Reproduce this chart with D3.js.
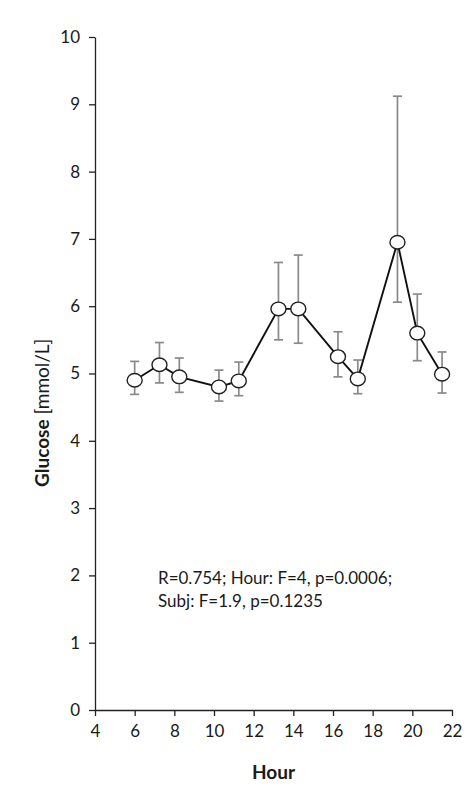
<!DOCTYPE html>
<html>
<head>
<meta charset="utf-8">
<script src="https://cdn.jsdelivr.net/npm/d3@7"></script>
<style>
  body { margin: 0; background: #fff; }
  text { font-family: Lato, "Open Sans", sans-serif; fill: #1a1a1a; }
</style>
</head>
<body>
<div id="chart"></div>
<script>
// hour of measurement, mean glucose and error bar ends (mmol/L)
var hours = [6, 7.25, 8.25, 10.25, 11.25, 13.25, 14.25, 16.25, 17.25, 19.25, 20.25, 21.5];
var glucose = [4.90, 5.13, 4.95, 4.80, 4.89, 5.96, 5.96, 5.25, 4.92, 6.95, 5.60, 4.99];
var errUpper = [5.18, 5.46, 5.23, 5.05, 5.17, 6.65, 6.76, 5.62, 5.20, 9.12, 6.18, 5.32];
var errLower = [4.69, 4.86, 4.72, 4.59, 4.67, 5.50, 5.45, 4.95, 4.70, 6.06, 5.19, 4.71];
var xTicks = [4, 6, 8, 10, 12, 14, 16, 18, 20, 22];
var yTicks = [0, 1, 2, 3, 4, 5, 6, 7, 8, 9, 10];
var statsLines = ["R=0.754; Hour: F=4, p=0.0006;", "Subj: F=1.9, p=0.1235"];

(function() {
    var width = 474, height = 803;
    var left = 95, right = 452, top = 37, bottom = 710;

    var svg = d3.select("#chart").append("svg")
        .attr("width", width)
        .attr("height", height);

    var x = d3.scaleLinear().domain([4, 22]).range([left, right]);
    var y = d3.scaleLinear().domain([0, 10]).range([bottom, top]);

    var data = hours.map((h, i) => ({h: h, v: glucose[i], hi: errUpper[i], lo: errLower[i]}));

    // axes
    var xAxis = svg.append("g")
        .attr("transform", `translate(0, ${bottom})`)
        .call(d3.axisBottom(x).tickValues(xTicks).tickSize(6).tickPadding(9).tickSizeOuter(0));
    var yAxis = svg.append("g")
        .attr("transform", `translate(${left}, 0)`)
        .call(d3.axisLeft(y).tickValues(yTicks).tickSize(6).tickPadding(9).tickSizeOuter(0));

    [xAxis, yAxis].forEach(function(g) {
        g.select(".domain").attr("stroke", "#222").attr("stroke-width", 1.3);
        g.selectAll(".tick line").attr("stroke", "#222").attr("stroke-width", 1.3);
        g.selectAll(".tick text").style("font-size", "17px").attr("fill", "#1a1a1a");
    });

    // error bars
    var eb = svg.append("g").attr("stroke", "#8a8a8a").attr("stroke-width", 1.7);
    eb.selectAll(".v").data(data).enter().append("line")
        .attr("x1", d => x(d.h)).attr("x2", d => x(d.h))
        .attr("y1", d => y(d.hi)).attr("y2", d => y(d.lo));
    eb.selectAll(".t").data(data).enter().append("line")
        .attr("x1", d => x(d.h) - 4.5).attr("x2", d => x(d.h) + 4.5)
        .attr("y1", d => y(d.hi)).attr("y2", d => y(d.hi));
    eb.selectAll(".b").data(data).enter().append("line")
        .attr("x1", d => x(d.h) - 4.5).attr("x2", d => x(d.h) + 4.5)
        .attr("y1", d => y(d.lo)).attr("y2", d => y(d.lo));

    // line
    svg.append("path")
        .datum(data)
        .attr("fill", "none")
        .attr("stroke", "#111")
        .attr("stroke-width", 1.9)
        .attr("d", d3.line().x(d => x(d.h)).y(d => y(d.v)));

    // markers
    svg.selectAll(".pt").data(data).enter().append("ellipse")
        .attr("cx", d => x(d.h))
        .attr("cy", d => y(d.v))
        .attr("rx", 7.5)
        .attr("ry", 6.8)
        .attr("fill", "#fff")
        .attr("stroke", "#222")
        .attr("stroke-width", 1.4);

    // stats annotation
    svg.append("g").selectAll("text").data(statsLines).enter().append("text")
        .attr("x", 158)
        .attr("y", (d, i) => 584 + i * 23)
        .style("font-size", "17px")
        .text(d => d);

    // axis titles
    svg.append("text")
        .attr("x", (left + right) / 2)
        .attr("y", 779)
        .attr("text-anchor", "middle")
        .style("font-size", "19px")
        .style("font-weight", "bold")
        .text("Hour");

    var yl = svg.append("text")
        .attr("transform", `translate(49, 487) rotate(-90)`)
        .style("font-size", "19px");
    yl.append("tspan").style("font-weight", "bold").text("Glucose");
    yl.append("tspan").text(" [mmol/L]");
})();
</script>
</body>
</html>
